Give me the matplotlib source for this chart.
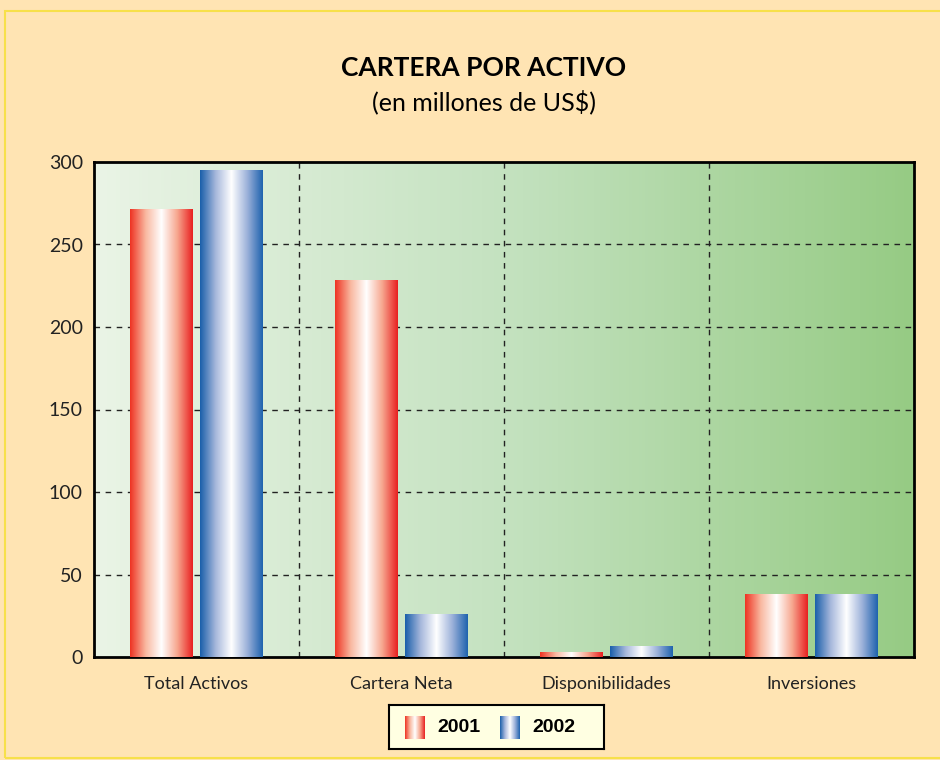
import numpy as np
import matplotlib.pyplot as plt
from matplotlib.colors import LinearSegmentedColormap
from matplotlib.patches import Rectangle

# Data (millones de US$)
categories = ['Total Activos', 'Cartera Neta', 'Disponibilidades', 'Inversiones']
years = ['2001', '2002']
values_2001 = [271, 228, 3, 38]
values_2002 = [295, 25.5, 6.5, 38]
yticks = [0, 50, 100, 150, 200, 250, 300]

red_cmap = LinearSegmentedColormap.from_list('r', ['#EE3322', '#F9B8A0', '#FFFFFF', '#F7A890', '#E82020'])
blue_cmap = LinearSegmentedColormap.from_list('b', ['#1A5FAA', '#A7B8DC', '#FFFFFF', '#9DB2DA', '#1E62AE'])
bg_cmap = LinearSegmentedColormap.from_list('bg', ['#EAF4E6', '#C4E2C0', '#96CB84'])

plt.rcParams['font.family'] = ['Lato', 'DejaVu Sans']

fig = plt.figure(figsize=(9.4, 7.6), dpi=100)
fig.patch.set_facecolor('#FFE4B3')
fig.patches.append(Rectangle((5 / 940, 2 / 760), 1.0, 747 / 760, transform=fig.transFigure,
                             fill=False, edgecolor='#F7E04A', linewidth=1.5))

ax = fig.add_axes([94 / 940, 103 / 760, 820 / 940, 495 / 760])
grad = np.linspace(0, 1, 256).reshape(1, -1)
ax.imshow(grad, cmap=bg_cmap, extent=[-0.5, 3.5, 0, 300], aspect='auto', zorder=0)

width = 0.305
offset = 0.17
x = np.arange(len(categories))
for vals, cmap, shift in [(values_2001, red_cmap, -offset), (values_2002, blue_cmap, offset)]:
    for xi, v in zip(x, vals):
        x0 = xi + shift - width / 2
        ax.imshow(grad, cmap=cmap, extent=[x0, x0 + width, 0, v], aspect='auto', zorder=3)

for yv in yticks[1:-1]:
    ax.axhline(yv, color='#222222', linestyle=(0, (4, 4)), linewidth=1, zorder=1)
for xv in [0.5, 1.5, 2.5]:
    ax.axvline(xv, color='#222222', linestyle=(0, (4, 4)), linewidth=1, zorder=1)

ax.set_xlim(-0.5, 3.5)
ax.set_ylim(0, 300)
ax.set_xticks(x)
ax.set_xticklabels(categories, fontsize=13, color='#222222')
ax.set_yticks(yticks)
ax.set_yticklabels([str(t) for t in yticks], fontsize=14, color='#222222')
ax.tick_params(axis='x', length=0, pad=14)
ax.tick_params(axis='y', length=0, pad=8)
for s in ax.spines.values():
    s.set_linewidth(2)
    s.set_color('black')

fig.text(484 / 940, 1 - 68 / 760, 'CARTERA POR ACTIVO', ha='center', va='center',
         fontsize=19, fontweight='bold')
fig.text(484 / 940, 1 - 102 / 760, '(en millones de US$)', ha='center', va='center',
         fontsize=18)

# Legend box
lax = fig.add_axes([389 / 940, 11 / 760, 215 / 940, 44 / 760])
lax.set_facecolor('#FFFFE2')
lax.set_xticks([])
lax.set_yticks([])
for s in lax.spines.values():
    s.set_linewidth(1.5)
    s.set_color('black')
for i, (yr, cmap) in enumerate(zip(years, [red_cmap, blue_cmap])):
    hx = 16 + i * 95
    lax.imshow(grad, cmap=cmap, extent=[hx, hx + 20, 10, 33], aspect='auto')
    lax.text(hx + 32, 22, yr, va='center', ha='left', fontsize=14, fontweight='bold',
             family=['Liberation Sans', 'DejaVu Sans'])
lax.set_xlim(0, 215)
lax.set_ylim(0, 44)

fig.savefig('out.png', dpi=100, facecolor=fig.get_facecolor())
